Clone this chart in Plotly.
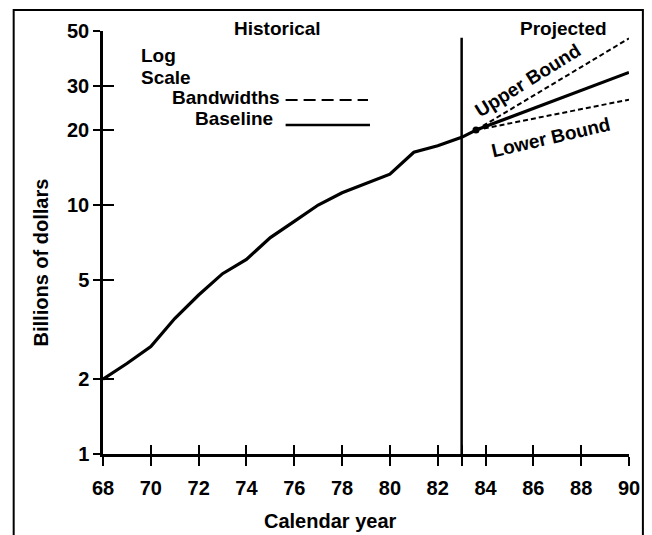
import math
import plotly.graph_objects as go

# ---------------- data ----------------
hist_years = [68, 69, 70, 71, 72, 73, 74, 75, 76, 77, 78, 79, 80, 81, 82, 83, 83.6]
hist_values = [2.0, 2.31, 2.7, 3.5, 4.35, 5.3, 6.05, 7.4, 8.6, 10.0, 11.2, 12.2, 13.3, 16.3, 17.3, 18.7, 20.0]

proj_years = [83.6, 90]
upper_bound = [20.0, 46.7]
baseline_proj = [20.0, 34.1]
lower_bound = [20.0, 26.5]

divider_years = [83, 83]
divider_values = [1, 47]

x_tick_vals = [68, 70, 72, 74, 76, 78, 80, 82, 83, 84, 86, 88, 90]
x_tick_text = ["68", "70", "72", "74", "76", "78", "80", "82", "", "84", "86", "88", "90"]
y_tick_vals = [1, 2, 5, 10, 20, 30, 50]
y_tick_text = ["1", "2", "5", "10", "20", "30", "50"]

# ---------------- layout geometry ----------------
OFF = 8  # default page body margin
W, H = 652 - OFF, 535 - OFF
L, R, T, B = 103 - OFF, 19, 31 - OFF, 81
PW, PH = W - L - R, H - T - B
FONT = "Liberation Sans"


def px(x):   # page pixel -> paper fraction
    return (x - 103) / PW


def py(y):
    return (454 - y) / PH


fig = go.Figure()

fig.add_trace(go.Scatter(x=hist_years, y=hist_values, mode="lines",
                         line=dict(color="black", width=3.2), showlegend=False))
fig.add_trace(go.Scatter(x=proj_years, y=upper_bound, mode="lines",
                         line=dict(color="black", width=2, dash="5px,3px"), showlegend=False))
fig.add_trace(go.Scatter(x=proj_years, y=lower_bound, mode="lines",
                         line=dict(color="black", width=2, dash="5px,3px"), showlegend=False))
fig.add_trace(go.Scatter(x=proj_years, y=baseline_proj, mode="lines",
                         line=dict(color="black", width=3.2), showlegend=False))
fig.add_trace(go.Scatter(x=proj_years[:1], y=baseline_proj[:1], mode="markers",
                         marker=dict(color="black", size=7), showlegend=False))
fig.add_trace(go.Scatter(x=divider_years, y=divider_values, mode="lines",
                         line=dict(color="black", width=2.5), showlegend=False))
# invisible trace on the overlay axes (for crossing tick marks)
fig.add_trace(go.Scatter(x=[hist_years[0]], y=[hist_values[0]], xaxis="x2", yaxis="y2",
                         mode="markers", marker=dict(opacity=0), showlegend=False,
                         hoverinfo="skip"))

xr = [68, 90]
yr = [math.log10(1), math.log10(50)]
TICKFONT = dict(size=20, family=FONT, weight="bold")

fig.update_layout(
    width=W, height=H,
    margin=dict(l=L, r=R, t=T, b=B, pad=0),
    paper_bgcolor="white", plot_bgcolor="white",
    font=dict(family=FONT, color="black", size=19),
    xaxis=dict(range=xr, tickvals=x_tick_vals, ticktext=x_tick_text,
               ticks="outside", ticklen=9, tickwidth=2, tickcolor="black",
               showline=True, linecolor="black", linewidth=2.5,
               showgrid=False, zeroline=False, ticklabelstandoff=5,
               tickfont=TICKFONT),
    yaxis=dict(type="log", range=yr, tickvals=y_tick_vals, ticktext=y_tick_text,
               ticks="outside", ticklen=7, tickwidth=2, tickcolor="black",
               showline=True, linecolor="black", linewidth=2.5,
               showgrid=False, zeroline=False,
               tickfont=TICKFONT),
    xaxis2=dict(range=xr, overlaying="x", anchor="y", side="bottom",
                tickvals=x_tick_vals, ticks="inside", ticklen=9, tickwidth=2,
                tickcolor="black", showticklabels=False, showline=False,
                showgrid=False, zeroline=False),
    yaxis2=dict(type="log", range=yr, overlaying="y", anchor="x", side="left",
                tickvals=y_tick_vals, ticks="inside", ticklen=11, tickwidth=2,
                tickcolor="black", showticklabels=False, showline=False,
                showgrid=False, zeroline=False),
    showlegend=False,
)

ann = []


def add_text(text, x, y, xanchor="center", yanchor="middle", size=19, angle=0):
    ann.append(dict(text=text, x=px(x), y=py(y), xref="paper", yref="paper",
                    xanchor=xanchor, yanchor=yanchor, showarrow=False,
                    textangle=angle,
                    font=dict(family=FONT, size=size, color="black", weight="bold")))


add_text("Historical", 279, 29)
add_text("Projected", 567, 28)
add_text("Log", 139, 56, xanchor="left")
add_text("Scale", 139, 77, xanchor="left")
add_text("Bandwidths", 283, 97, xanchor="right")
add_text("Baseline", 276, 119, xanchor="right")
add_text("Upper Bound", 531, 81, size=19, angle=-32)
add_text("Lower Bound", 554, 137, size=19, angle=-13)
add_text("Calendar year", 332, 521, size=20)
add_text("Billions of dollars", 41, 262, size=20, angle=-90)
fig.update_layout(annotations=ann)

shapes = [
    # legend samples
    dict(type="line", xref="paper", yref="paper", x0=px(287), x1=px(370), y0=py(100), y1=py(100),
         line=dict(color="black", width=2, dash="12px,6px")),
    dict(type="line", xref="paper", yref="paper", x0=px(287), x1=px(372), y0=py(125), y1=py(125),
         line=dict(color="black", width=2.5)),
    # outer frame
    dict(type="rect", xref="paper", yref="paper", x0=px(13), x1=px(647), y0=py(560), y1=py(10),
         line=dict(color="black", width=2), fillcolor="rgba(0,0,0,0)", layer="below"),
]
fig.update_layout(shapes=shapes)

fig.write_html("out.html")
